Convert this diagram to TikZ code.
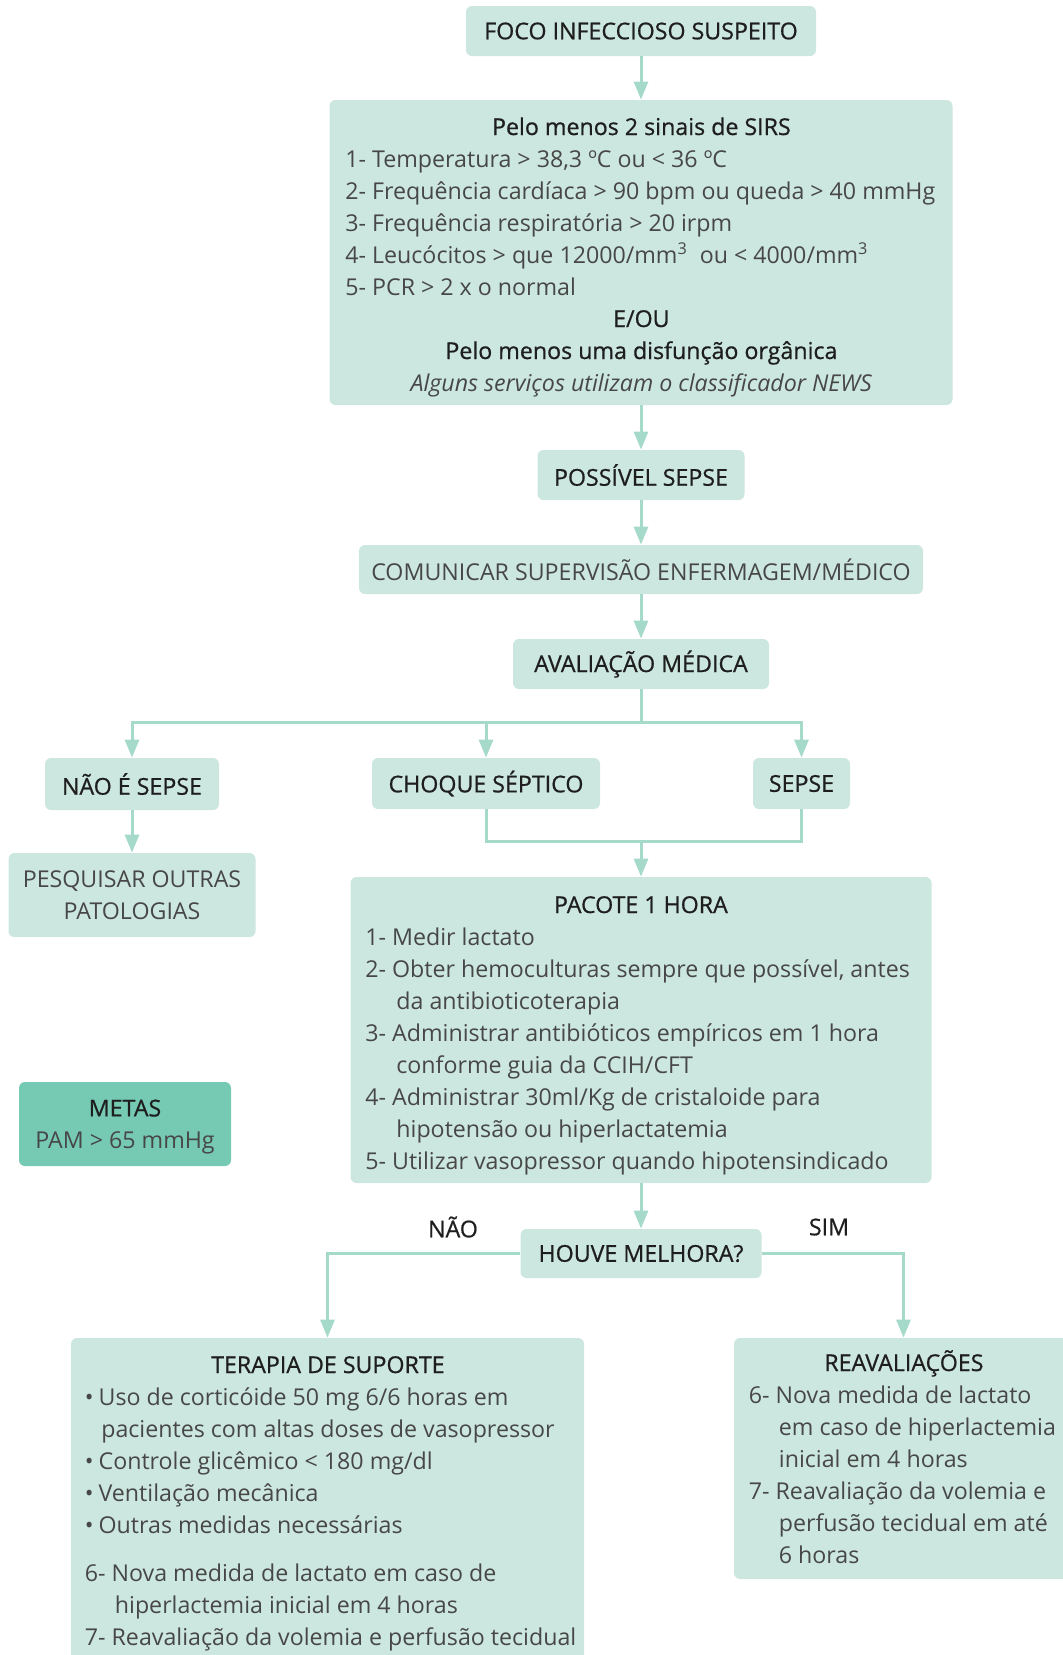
\documentclass[tikz,border=0pt]{standalone}
\usepackage{fontspec}
\setmainfont{Open Sans}
\newfontfamily\headfont{Open Sans}[FakeBold=0.7]
\usetikzlibrary{arrows.meta}
\definecolor{boxfill}{HTML}{CCE7DF}
\definecolor{metasfill}{HTML}{76C9B3}
\definecolor{linecol}{HTML}{A5D9CA}
\definecolor{headcol}{HTML}{1E1E1E}
\definecolor{bodycol}{HTML}{474747}
\newcommand\fsz{\fontsize{11.6}{16}\selectfont}
\newcommand\hd[1]{\leavevmode{\headfont\color{headcol}#1}}
\begin{document}
\begin{tikzpicture}[x=0.5pt,y=-0.5pt,
  font=\fsz,
  box/.style={rectangle,rounded corners=3pt,fill=boxfill,inner sep=0pt,text=headcol,font=\fsz\headfont},
  bodybox/.style={box,text=bodycol,font=\fsz},
  txt/.style={inner sep=0pt,text=bodycol,anchor=base west},
  conn/.style={draw=linecol,line width=1.5pt},
  arr/.style={conn,-{Triangle[length=9pt,width=7pt]}},
  lbl/.style={inner sep=0pt,text=headcol,font=\fsz\headfont}]
\useasboundingbox (0,0) rectangle (1062,1655);

% boxes
\node[box,minimum width=175pt,minimum height=25pt] (foco) at (641,31) {FOCO INFECCIOSO SUSPEITO};
\node[box,minimum width=311.5pt,minimum height=152.5pt] (sirs) at (641,252.5) {};
\node[txt] (sirsT) at (345,135) {\begin{minipage}[t]{296pt}
\centering\hd{Pelo menos 2 sinais de SIRS}\par
\raggedright
1- Temperatura > 38,3 ºC ou < 36 ºC\\
2- Frequência cardíaca > 90 bpm ou queda > 40 mmHg\\
3- Frequência respiratória > 20 irpm\\
4- Leucócitos > que 12000/mm\textsuperscript{3}\ \ ou < 4000/mm\textsuperscript{3}\\
5- PCR > 2 x o normal\par
\centering\hd{E/OU}\\
\hd{Pelo menos uma disfunção orgânica}\\
\textit{Alguns serviços utilizam o classificador NEWS}\par
\end{minipage}};

\node[box,minimum width=103.5pt,minimum height=25pt] (possivel) at (641,475) {POSSÍVEL SEPSE};
\node[bodybox,minimum width=282pt,minimum height=24.5pt] (comunicar) at (641,569.5) {COMUNICAR SUPERVISÃO ENFERMAGEM/MÉDICO};
\node[box,minimum width=128pt,minimum height=25pt] (avaliacao) at (641,664) {AVALIAÇÃO MÉDICA};

\node[box,minimum width=87pt,minimum height=26pt] (naoe) at (132,784) {NÃO É SEPSE};
\node[box,minimum width=114pt,minimum height=25.5pt] (choque) at (486,783.5) {CHOQUE SÉPTICO};
\node[box,minimum width=48.5pt,minimum height=25.5pt] (sepse) at (801.5,783.5) {SEPSE};

\node[bodybox,minimum width=123.5pt,minimum height=42pt,align=center,text depth=0pt] (pesq) at (132,895) {PESQUISAR OUTRAS\\PATOLOGIAS};

\node[box,minimum width=290.5pt,minimum height=153pt] (pacote) at (641,1030) {};
\node[txt] (pacoteT) at (365,913) {\begin{minipage}[t]{275.5pt}
\centering\hd{PACOTE 1 HORA}\par
\raggedright
1- Medir lactato\\
2- Obter hemoculturas sempre que possível, antes\\
\hspace*{15.5pt}da antibioticoterapia\\
3- Administrar antibióticos empíricos em 1 hora\\
\hspace*{15.5pt}conforme guia da CCIH/CFT\\
4- Administrar 30ml/Kg de cristaloide para\\
\hspace*{15.5pt}hipotensão ou hiperlactatemia\\
5- Utilizar vasopressor quando hipotensindicado\par
\end{minipage}};

\node[box,fill=metasfill,minimum width=106pt,minimum height=42pt,align=center,text depth=0pt] (metas) at (125,1124) {METAS\\\textcolor{bodycol}{\normalfont\fsz PAM > 65 mmHg}};

\node[box,minimum width=120.5pt,minimum height=24.5pt] (houve) at (641,1253.5) {HOUVE MELHORA?};
\node[lbl] (nao) at (453,1227) {NÃO};
\node[lbl] (sim) at (829,1227) {SIM};

\node[box,minimum width=256.5pt,minimum height=171pt] (terapia) at (327.5,1509) {};
\node[txt] (terapiaT) at (84.5,1373) {\begin{minipage}[t]{243pt}
\centering\hd{TERAPIA DE SUPORTE}\par
\raggedright
•\hspace{2.5pt}Uso de corticóide 50 mg 6/6 horas em\\
\hspace*{8.2pt}pacientes com altas doses de vasopressor\\
•\hspace{2.5pt}Controle glicêmico < 180 mg/dl\\
•\hspace{2.5pt}Ventilação mecânica\\
•\hspace{2.5pt}Outras medidas necessárias\par
\vspace{8pt}
\mbox{6- Nova medida de lactato em caso de}\\
\hspace*{15pt}hiperlactemia inicial em 4 horas\\
\mbox{7- Reavaliação da volemia e perfusão tecidual}\par
\end{minipage}};

\node[box,minimum width=169.5pt,minimum height=120.5pt] (reav) at (903.5,1458.5) {};
\node[txt] (reavT) at (748.5,1371) {\begin{minipage}[t]{155pt}
\centering\hd{REAVALIAÇÕES}\par
\raggedright
6- Nova medida de lactato\\
\hspace*{15pt}em caso de hiperlactemia\\
\hspace*{15pt}inicial em 4 horas\\
7- Reavaliação da volemia e\\
\hspace*{15pt}perfusão tecidual em até\\
\hspace*{15pt}6 horas\par
\end{minipage}};

% connectors
\draw[arr] (foco.south) -- (sirs.north);
\draw[arr] (sirs.south) -- (possivel.north);
\draw[arr] (possivel.south) -- (comunicar.north);
\draw[arr] (comunicar.south) -- (avaliacao.north);
\coordinate (br) at (641,722);
\draw[conn] (avaliacao.south) -- (br);
\draw[arr] (br) -| (naoe.north);
\draw[arr] (br) -| (sepse.north);
\draw[arr] (choque.north |- br) -- (choque.north);
\draw[arr] (naoe.south) -- (pesq.north);
\coordinate (mg) at (641,841);
\draw[conn] (choque.south) |- (mg) -| (sepse.south);
\draw[arr] (mg) -- (pacote.north);
\draw[arr] (pacote.south) -- (houve.north);
\draw[arr] (houve.west) -| (terapia.north);
\draw[arr] (houve.east) -| (reav.north);
\end{tikzpicture}
\end{document}
